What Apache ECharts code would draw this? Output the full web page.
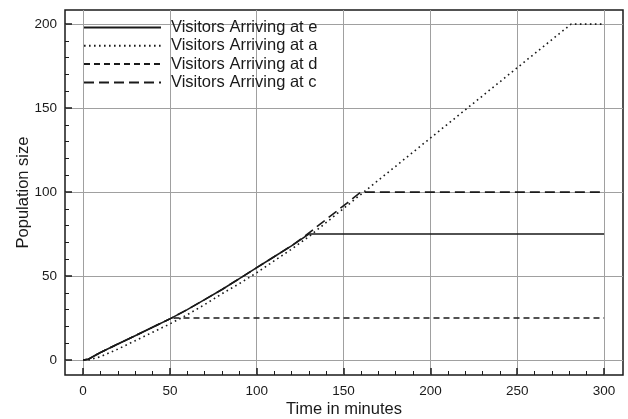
<!DOCTYPE html>
<html>
<head>
<meta charset="UTF-8">
<title>Visitors</title>
<script src="https://cdn.jsdelivr.net/npm/echarts@6/dist/echarts.min.js"></script>
<style>
  html, body { margin: 0; padding: 0; background: #fff; }
  #chart { width: 628px; height: 419px; }
</style>
</head>
<body>
<div id="chart"></div>
<script>
// series values, [time in minutes, population size]
var arriveE = [[0,0],[3,0.5],[10,4.5],[20,9.5],[30,14.5],[40,19.5],[50,24.5],[60,30],[70,36],[80,42],[90,48.5],[100,55],[110,61.5],[120,68],[130,75],[300,75]];
var arriveA = [[3,0],[10,2],[20,6.5],[30,11.5],[40,16.5],[50,21.5],[60,27],[70,33],[80,39.5],[90,45.5],[100,52],[110,59],[120,66],[130,73.5],[281,200],[300,200]];
var arriveD = [[0,0],[3,0.5],[10,4.5],[20,9.5],[30,14.5],[40,19.5],[50,24.5],[53,25],[300,25]];
var arriveC = [[0,0],[3,0.5],[10,4.5],[20,9.5],[30,14.5],[40,19.5],[50,24.5],[60,30],[70,36],[80,42],[90,48.5],[100,55],[110,61.5],[120,68],[128,74],[160,100],[300,100]];

var seriesNames = ['Visitors Arriving at e', 'Visitors Arriving at a', 'Visitors Arriving at d', 'Visitors Arriving at c'];

// tick values
var xTicks = [0, 50, 100, 150, 200, 250, 300];
var xMinorTicks = [10, 20, 30, 40, 60, 70, 80, 90, 110, 120, 130, 140, 160, 170, 180, 190, 210, 220, 230, 240, 260, 270, 280, 290];
var yTicks = [0, 50, 100, 150, 200];
var yMinorTicks = [10, 20, 30, 40, 60, 70, 80, 90, 110, 120, 130, 140, 160, 170, 180, 190];

var ink = '#1a1a1a';
var font = 'Liberation Sans, Arial, Helvetica, sans-serif';

var chart = echarts.init(document.getElementById('chart'));

function mainX() {
    return {
        type: 'value', min: -10.4, max: 310.9, position: 'bottom',
        name: 'Time in minutes', nameLocation: 'middle', nameGap: 26, nameMoveOverlap: false,
        nameTextStyle: { fontSize: 16.5, color: ink, fontFamily: font },
        axisLine: { show: false, onZero: false },
        axisTick: { show: true, inside: true, length: 7, customValues: xTicks, lineStyle: { color: ink, width: 1.5 } },
        axisLabel: { customValues: xTicks, fontSize: 13.5, color: ink, fontFamily: font, margin: 9 },
        splitLine: { show: true, lineStyle: { color: '#a0a0a0', width: 1 } }
    };
}
function minorX() {
    return {
        type: 'value', min: -10.4, max: 310.9, position: 'bottom',
        axisLine: { show: false, onZero: false },
        axisTick: { show: true, inside: true, length: 4, customValues: xMinorTicks, lineStyle: { color: ink, width: 1 } },
        axisLabel: { show: false },
        splitLine: { show: false }
    };
}
function mainY() {
    return {
        type: 'value', min: -8.9, max: 208.4, position: 'left',
        name: 'Population size', nameLocation: 'middle', nameGap: 33, nameMoveOverlap: false,
        nameTextStyle: { fontSize: 16.5, color: ink, fontFamily: font },
        axisLine: { show: false, onZero: false },
        axisTick: { show: true, inside: true, length: 7, customValues: yTicks, lineStyle: { color: ink, width: 1.5 } },
        axisLabel: { customValues: yTicks, fontSize: 13.5, color: ink, fontFamily: font, margin: 8 },
        splitLine: { show: true, lineStyle: { color: '#a0a0a0', width: 1 } }
    };
}
function minorY() {
    return {
        type: 'value', min: -8.9, max: 208.4, position: 'left',
        axisLine: { show: false, onZero: false },
        axisTick: { show: true, inside: true, length: 4, customValues: yMinorTicks, lineStyle: { color: ink, width: 1 } },
        axisLabel: { show: false },
        splitLine: { show: false }
    };
}

function lineSeries(name, data, dash, width, z) {
    return {
        name: name, type: 'line', data: data, symbol: 'none',
        xAxisIndex: 0, yAxisIndex: 0, z: z, animation: false,
        itemStyle: { color: ink },
        lineStyle: { color: ink, width: width, type: dash }
    };
}

var option = {
    animation: false,
    grid: {
        left: 65, right: 5, top: 10, bottom: 44, outerBoundsMode: 'none',
        show: true, borderColor: ink, borderWidth: 1.5, backgroundColor: 'transparent'
    },
    legend: {
        orient: 'vertical', left: 78, top: 14,
        itemWidth: 77, itemHeight: 14, itemGap: 1.3,
        data: seriesNames,
        itemStyle: { opacity: 0 },
        textStyle: { fontSize: 16.5, color: ink, fontFamily: font, padding: [0, 0, 0, 5] }
    },
    xAxis: [mainX(), minorX()],
    yAxis: [mainY(), minorY()],
    series: [
        lineSeries(seriesNames[3], arriveC, [10, 5], 1.6, 3),
        lineSeries(seriesNames[2], arriveD, [6, 4], 1.5, 4),
        lineSeries(seriesNames[1], arriveA, [1.6, 3.4], 1.6, 5),
        lineSeries(seriesNames[0], arriveE, 'solid', 1.6, 6)
    ]
};
chart.setOption(option);
</script>
</body>
</html>
